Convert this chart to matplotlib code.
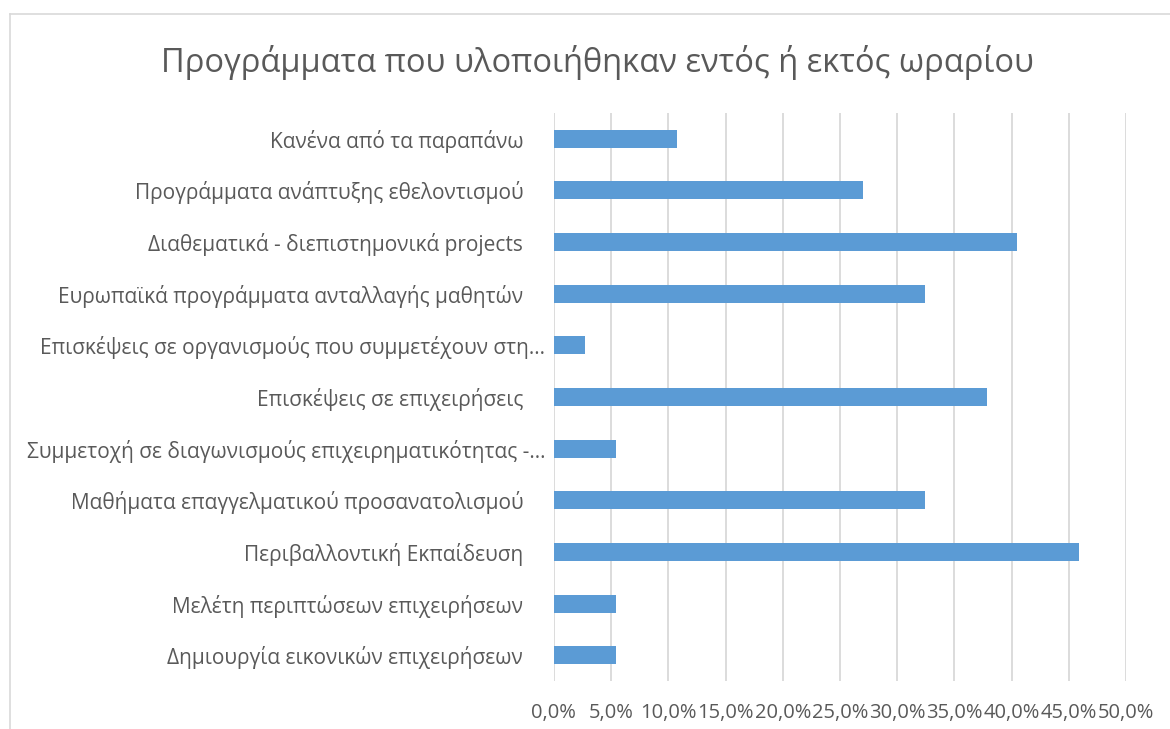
import matplotlib
matplotlib.use("Agg")
import matplotlib.pyplot as plt
import matplotlib.transforms as mtransforms
from matplotlib.lines import Line2D
from matplotlib.ticker import FuncFormatter, MultipleLocator

plt.rcParams['font.family'] = ['Open Sans', 'DejaVu Sans']

# categories listed top to bottom as in the chart
categories = [
    "Κανένα από τα παραπάνω",
    "Προγράμματα ανάπτυξης εθελοντισμού",
    "Διαθεματικά - διεπιστημονικά projects",
    "Ευρωπαϊκά προγράμματα ανταλλαγής μαθητών",
    "Επισκέψεις σε οργανισμούς που συμμετέχουν στη…",
    "Επισκέψεις σε επιχειρήσεις",
    "Συμμετοχή σε διαγωνισμούς επιχειρηματικότητας -…",
    "Μαθήματα επαγγελματικού προσανατολισμού",
    "Περιβαλλοντική Εκπαίδευση",
    "Μελέτη περιπτώσεων επιχειρήσεων",
    "Δημιουργία εικονικών επιχειρήσεων",
]
values = [10.8, 27.0, 40.5, 32.4, 2.7, 37.8, 5.4, 32.4, 45.9, 5.4, 5.4]
title = "Προγράμματα που υλοποιήθηκαν εντός ή εκτός ωραρίου"

text_color = "#595959"
grid_color = "#D9D9D9"
bar_color = "#5B9BD5"

fig = plt.figure(figsize=(11.7, 7.29), dpi=100)
ax = fig.add_axes([0.4733, 0.0658, 0.4893, 0.7792])

ax.barh(range(len(categories)), values, height=0.35, color=bar_color, zorder=3)

ax.set_xlim(0, 50)
ax.set_ylim(len(categories) - 0.5, -0.5)
ax.xaxis.set_major_locator(MultipleLocator(5))
ax.xaxis.set_major_formatter(FuncFormatter(lambda v, p: f"{v:.1f}%".replace(".", ",")))
ax.grid(axis="x", color=grid_color, linewidth=1.3, zorder=0)

ax.set_yticks(range(len(categories)))
ax.set_yticklabels(categories)

for s in ax.spines.values():
    s.set_visible(False)
ax.tick_params(axis="both", length=0, labelsize=15, colors=text_color)
ax.tick_params(axis="x", pad=16, labelsize=14.5)
ax.tick_params(axis="y", pad=22)

# truncated labels sit closer to the axis, like in the original
shift = mtransforms.ScaledTranslation(22 / 100, 0, fig.dpi_scale_trans)
for lab in ax.get_yticklabels():
    if lab.get_text().endswith("…"):
        lab.set_transform(lab.get_transform() + shift)

fig.text(0.511, 0.914, title, ha="center", va="center", fontsize=23.5, color=text_color)

# chart area border (left and top edges visible in the crop)
fig.add_artist(Line2D([10 / 1170, 10 / 1170], [0, 1 - 14 / 729], transform=fig.transFigure,
                      color=grid_color, linewidth=1.2))
fig.add_artist(Line2D([10 / 1170, 1], [1 - 14 / 729, 1 - 14 / 729], transform=fig.transFigure,
                      color=grid_color, linewidth=1.2))

fig.savefig("out.png", dpi=100, facecolor="white")
